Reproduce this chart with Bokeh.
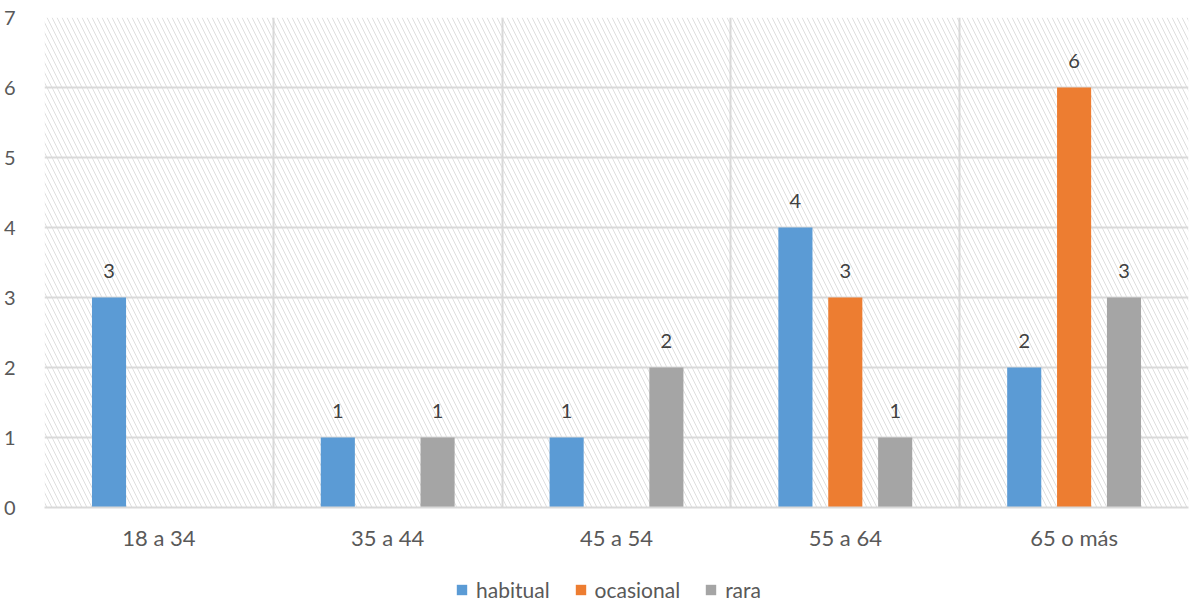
from bokeh.plotting import figure
from bokeh.models import (ColumnDataSource, FixedTicker, BoxAnnotation, LabelSet,
                          Legend, LegendItem)
from bokeh.layouts import column
from bokeh.core.properties import value
from bokeh.embed import file_html
from bokeh.resources import INLINE

categories = ["18 a 34", "35 a 44", "45 a 54", "55 a 64", "65 o más"]
series_names = ["habitual", "ocasional", "rara"]
habitual = [3, 1, 1, 4, 2]
ocasional = [0, 0, 0, 3, 6]
rara = [0, 1, 2, 1, 3]
colors = ["#5B9BD5", "#ED7D31", "#A5A5A5"]
y_ticks = [0, 1, 2, 3, 4, 5, 6, 7]

FONT = "Lato"

p = figure(width=1189, height=562, output_backend="svg", toolbar_location=None,
           x_range=(0, len(categories)), y_range=(0, 7),
           min_border_left=44, min_border_right=1, min_border_top=17, min_border_bottom=55)
p.outline_line_color = None
p.background_fill_color = "white"

hatch = BoxAnnotation(fill_alpha=0, line_alpha=0, hatch_pattern="\\", hatch_color="#dedede",
                      hatch_scale=10, hatch_weight=1, level="image")
p.add_layout(hatch)

# legend strip figure: its renderers are hidden, only the legend is shown
p2 = figure(width=1189, height=40, output_backend="svg", toolbar_location=None,
            x_range=(0, len(categories)), y_range=(0, 7), min_border=0)
p2.axis.visible = False
p2.grid.visible = False
p2.outline_line_color = None

offsets = [-0.218, 0.0, 0.218]
items = []
for name, vals, col, off in zip(series_names, [habitual, ocasional, rara], colors, offsets):
    xs = [i + 0.5 + off for i in range(len(categories))]
    src = ColumnDataSource(dict(x=xs, top=vals))
    p.vbar(x="x", top="top", width=0.149, bottom=0, source=src, fill_color=col, line_color=None)
    r2 = p2.vbar(x="x", top="top", width=0.149, bottom=0, source=src, fill_color=col,
                 line_color=None, visible=False)
    items.append(LegendItem(label=name, renderers=[r2]))
    lx = [x for x, v in zip(xs, vals) if v > 0]
    lv = [v for v in vals if v > 0]
    lsrc = ColumnDataSource(dict(x=lx, y=lv, t=[str(v) for v in lv]))
    p.add_layout(LabelSet(x="x", y="y", text="t", source=lsrc, x_offset=0, y_offset=27,
                          text_align="center", text_baseline="middle", text_font=value(FONT),
                          text_font_size="20px", text_color="#404040"))

p.xaxis.ticker = FixedTicker(ticks=[i + 0.5 for i in range(len(categories))])
p.xaxis.major_label_overrides = {i + 0.5: c for i, c in enumerate(categories)}
p.xgrid.ticker = FixedTicker(ticks=list(range(len(categories) + 1)))
p.xgrid.grid_line_color = "#d9d9d9"
p.xgrid.grid_line_width = 2
p.ygrid.ticker = FixedTicker(ticks=y_ticks)
p.ygrid.grid_line_color = "#d9d9d9"
p.ygrid.grid_line_width = 2
p.yaxis.ticker = FixedTicker(ticks=y_ticks)

for ax in [p.xaxis[0], p.yaxis[0]]:
    ax.major_tick_line_color = None
    ax.minor_tick_line_color = None
    ax.major_label_text_font = FONT
    ax.major_label_text_color = "#595959"
p.yaxis.axis_line_color = None
p.yaxis.major_label_text_font_size = "20px"
p.yaxis.major_label_standoff = 23
p.xaxis.axis_line_color = "#d9d9d9"
p.xaxis.axis_line_width = 2
p.xaxis.major_label_text_font_size = "22px"
p.xaxis.major_label_standoff = 10

legend = Legend(items=items, orientation="horizontal", location=(411, 0),
                label_text_font=FONT, label_text_font_size="21px", label_text_color="#595959",
                glyph_width=13, glyph_height=13, spacing=24, label_standoff=8,
                border_line_color=None, background_fill_alpha=0, margin=0, padding=0)
p2.add_layout(legend)

open("out.html", "w").write(file_html(column(p, p2, spacing=0), INLINE))
